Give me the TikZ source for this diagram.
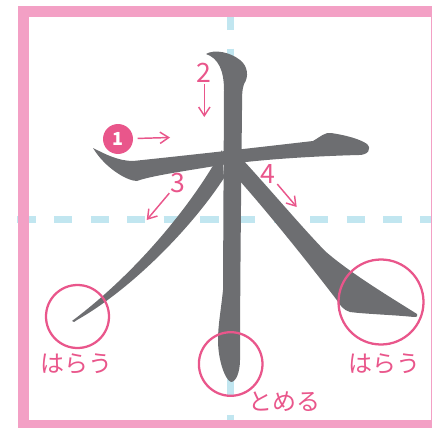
\documentclass[tikz,border=0pt]{standalone}
\usepackage{fontspec}
\setmainfont{Noto Sans CJK JP}
\usetikzlibrary{arrows.meta}
\definecolor{inkgray}{RGB}{109,110,113}
\definecolor{markpink}{RGB}{233,86,139}
\definecolor{framepink}{RGB}{243,160,197}
\definecolor{guideblue}{RGB}{193,230,240}
\newcommand{\lbfont}{\fontsize{18}{20}\selectfont}
\newcommand{\nmfont}{\fontsize{20}{22}\selectfont}

\begin{document}
\begin{tikzpicture}[
  x=0.75pt, y=-0.75pt,
  ink/.style={fill=inkgray},
  guide/.style={draw=guideblue, line width=5.25pt, dash pattern=on 13.7pt off 13.75pt},
  ring/.style={draw=markpink, line width=1.7pt},
  num/.style={text=markpink, font=\nmfont, inner sep=1pt},
  lbl/.style={text=markpink, font=\lbfont, inner sep=0pt},
  arr/.style={draw=markpink, line width=1.1pt, -{Straight Barb[length=6.5pt, width=8.5pt]}},
]
  \useasboundingbox (0,0) rectangle (432,428);

  % ---------------- grid and frame
  \draw[guide] (17.3,219) -- (450,219);
  \draw[guide] (230.5,12) -- (230.5,450);
  \draw[framepink, line width=8.25pt] (23.5,11.5) rectangle (436.5,425.5);

  % ---------------- the character
  % stroke 1
  \fill[ink] (93,148) .. controls (105,154) and (118,161) .. (133,161)
    .. controls (200,154) and (270,146) .. (313,141)
    .. controls (320,137) and (325,132) .. (331,133)
    .. controls (345,135) and (360,139) .. (367,144)
    .. controls (372,149) and (368,155) .. (359,155)
    .. controls (320,156) and (260,159) .. (215,166)
    .. controls (185,171) and (150,176) .. (137,181)
    .. controls (127,181) and (105,168) .. (93,148) -- cycle;
  % stroke 2
  \fill[ink] (206,54) .. controls (214,49) and (230,52) .. (240,60)
    .. controls (248,66) and (249,77) .. (244,84)
    .. controls (242,90) and (242,95) .. (242,110)
    .. controls (241,200) and (240,300) .. (240,360)
    .. controls (240,372) and (236,382) .. (231,382)
    .. controls (225,380) and (218,360) .. (218,340)
    .. controls (218,325) and (221,310) .. (223,290)
    -- (224,90)
    .. controls (224,70) and (218,58) .. (206,54) -- cycle;
  % stroke 3
  \fill[ink] (222,150) .. controls (195,200) and (140,270) .. (72,321)
    .. controls (73,323) and (75,322) .. (77,320)
    .. controls (130,290) and (190,230) .. (224,178) -- cycle;
  % stroke 4
  \fill[ink] (240,150) -- (243,160)
    .. controls (275,195) and (300,225) .. (325,251)
    .. controls (350,273) and (390,297) .. (417,314)
    .. controls (418,316) and (417,317) .. (414,317)
    .. controls (395,315) and (365,314) .. (350,312)
    .. controls (343,310) and (340,305) .. (336,299)
    .. controls (310,265) and (270,215) .. (239,180) -- cycle;

  % ---------------- stroke order
  \node[circle, fill=markpink, text=white, font=\fontsize{13.5}{14}\selectfont\bfseries,
    minimum size=22.5pt, inner sep=0pt, outer sep=3.5pt] (one) at (118,139) {1};
  \coordinate (a1) at (170,137.5);
  \draw[arr] (one) -- (a1);
  \node[num] (two) at (204.3,72.5) {2};
  \coordinate (a2) at (204.3,117);
  \draw[arr] (two) -- (a2);
  \node[num] (three) at (178.3,182.5) {3};
  \coordinate (a3) at (146.7,220);
  \draw[arr] (three) -- (a3);
  \node[num] (four) at (268.3,173.5) {4};
  \coordinate (a4) at (296.7,207);
  \draw[arr] (four) -- (a4);

  % ---------------- endings
  \draw[ring] (77.5,316.5) circle[radius=31.5];
  \draw[ring] (230.7,364) circle[radius=31.8];
  \draw[ring] (381,302) circle[radius=42.5];
  \node[lbl] (harai1) at (76.5,364) {はらう};
  \node[lbl] (tome) at (284,402) {とめる};
  \node[lbl] (harai2) at (384,364) {はらう};
\end{tikzpicture}
\end{document}
